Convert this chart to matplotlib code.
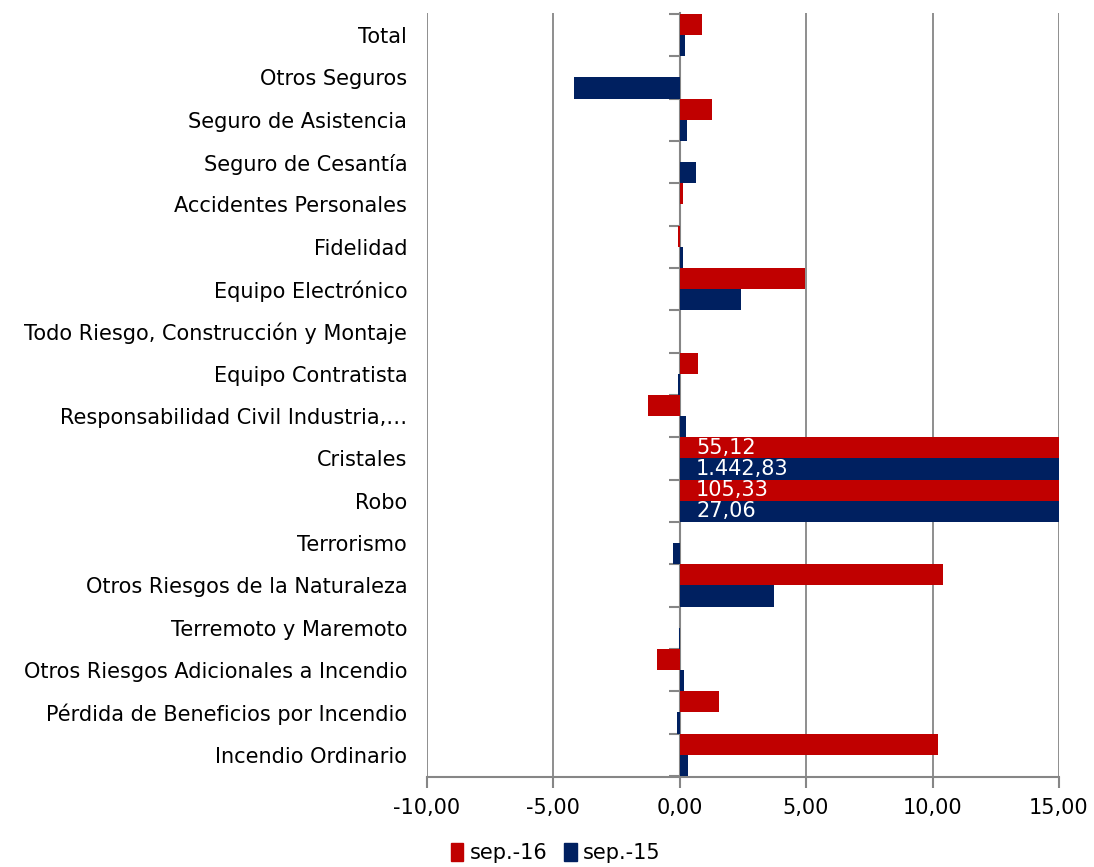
import numpy as np
import matplotlib.pyplot as plt
from matplotlib.ticker import FuncFormatter

# ramos, de arriba hacia abajo
ramos = [
    'Total',
    'Otros Seguros',
    'Seguro de Asistencia',
    'Seguro de Cesantía',
    'Accidentes Personales',
    'Fidelidad',
    'Equipo Electrónico',
    'Todo Riesgo, Construcción y Montaje',
    'Equipo Contratista',
    'Responsabilidad Civil Industria,…',
    'Cristales',
    'Robo',
    'Terrorismo',
    'Otros Riesgos de la Naturaleza',
    'Terremoto y Maremoto',
    'Otros Riesgos Adicionales a Incendio',
    'Pérdida de Beneficios por Incendio',
    'Incendio Ordinario',
]
sep16 = [0.87, 0.0, 1.30, 0.0, 0.15, -0.05, 4.95, 0.0, 0.72, -1.25,
         55.12, 105.33, 0.0, 10.42, 0.02, -0.90, 1.55, 10.20]
sep15 = [0.20, -4.19, 0.30, 0.63, 0.0, 0.15, 2.42, 0.0, -0.05, 0.27,
         1442.83, 27.06, -0.28, 3.75, -0.03, 0.16, -0.12, 0.32]

ROJO = '#C00000'
AZUL = '#002060'
GRIS = '#868686'
XMIN, XMAX = -10, 15
FS = 15

plt.rcParams['font.family'] = ['DejaVu Sans']

def fmt_es(v, dec=2):
    s = f'{v:,.{dec}f}'
    return s.replace(',', 'X').replace('.', ',').replace('X', '.')

fig = plt.figure(figsize=(10.94, 8.67), dpi=100)
ax = fig.add_axes([0.390, 0.104, 0.578, 0.881])

n = len(ramos)
y = np.arange(n)[::-1].astype(float)
h = 0.5

ax.barh(y + h / 2, sep16, height=h, color=ROJO, linewidth=0, zorder=3)
ax.barh(y - h / 2, sep15, height=h, color=AZUL, linewidth=0, zorder=3)

# etiquetas para barras fuera de escala
for i, (a, b) in enumerate(zip(sep16, sep15)):
    for val, yy in ((a, y[i] + h / 2), (b, y[i] - h / 2)):
        if val > XMAX:
            ax.text(0.65, yy, fmt_es(val), color='white', fontsize=FS,
                    ha='left', va='center', zorder=5)

ax.set_xlim(XMIN, XMAX)
ax.set_ylim(-0.5 - 0.02, n - 0.5 + 0.02)
ax.set_xticks(np.arange(XMIN, XMAX + 1, 5))
ax.xaxis.set_major_formatter(FuncFormatter(lambda v, p: fmt_es(v)))
ax.set_yticks(y)
ax.set_yticklabels(ramos)
ax.tick_params(axis='y', length=0, pad=14, labelsize=FS)
ax.tick_params(axis='x', length=8, width=1.5, color=GRIS, pad=7, labelsize=FS)

ax.grid(axis='x', color=GRIS, linewidth=1.3, zorder=0)
for s in ('left', 'right', 'top'):
    ax.spines[s].set_visible(False)
ax.spines['bottom'].set_color(GRIS)
ax.spines['bottom'].set_linewidth(1.5)

# eje vertical en cero con marcas entre categorías
eje0 = ax.secondary_yaxis((0 - XMIN) / (XMAX - XMIN))
eje0.set_yticks(np.arange(n + 1) - 0.5)
eje0.set_yticklabels([])
eje0.tick_params(length=8, width=1.5, color=GRIS)
eje0.spines['left'].set_color(GRIS)
eje0.spines['left'].set_linewidth(1.5)
eje0.spines['left'].set_zorder(4)

handles = [plt.Rectangle((0, 0), 1, 1, color=ROJO), plt.Rectangle((0, 0), 1, 1, color=AZUL)]
fig.legend(handles, ['sep.-16', 'sep.-15'], loc='center', bbox_to_anchor=(0.508, 0.016),
           ncol=2, frameon=False, fontsize=FS, handlelength=0.6, handleheight=0.9,
           handletextpad=0.3, columnspacing=0.8)

fig.savefig('out.png', dpi=100)
